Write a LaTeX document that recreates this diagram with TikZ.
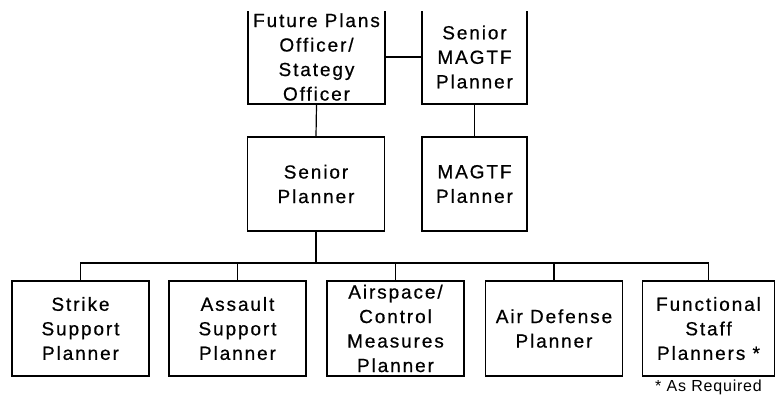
\documentclass[tikz,border=0pt]{standalone}
\usepackage{fontspec}
\setmainfont{Liberation Sans}[LetterSpace=10,FakeBold=0.6]
\newfontfamily\notefont{Liberation Sans}[LetterSpace=5]

\tikzset{
    planbox/.style={draw, line width=1.2pt, rectangle, align=center,
        minimum width=137pt, minimum height=94pt, inner sep=0pt,
        font=\fontsize{19}{24.5}\selectfont},
    link/.style={line width=1.2pt}
}

\begin{document}
\begin{tikzpicture}[x=1pt,y=-1pt]
        \useasboundingbox (0,0) rectangle (775,396);
        \clip (0,11.8) rectangle (775,396);
        % top row
        \node[planbox] (fpo) at (316.5,57) {Future Plans\\Officer/\\Stategy\\Officer};
        \node[planbox, minimum width=105pt] (smp) at (474.5,57) {Senior\\MAGTF\\Planner};
        % second row
        \node[planbox] (sp) at (316,184) {Senior\\Planner};
        \node[planbox, minimum width=105pt] (mp) at (474.5,184) {MAGTF\\Planner};
        \draw[link] (fpo.east) -- (smp.west);
        \draw[link] (fpo.south) -- (sp.north);
        \draw[link] (smp.south) -- (mp.north);
        % bottom row
        \coordinate (bus) at (316,263);
        \draw[link] (sp.south) -- (bus);
        \foreach \x/\n/\l in {80.5/strike/{Strike\\Support\\Planner},
                              237.5/assault/{Assault\\Support\\Planner},
                              395.5/airspace/{Airspace/\\Control\\Measures\\Planner},
                              554/airdef/{Air Defense\\Planner}} {
            \node[planbox, minimum height=95pt] (\n) at (\x,328.5) {\l};
        }
        \node[planbox, minimum height=95pt, minimum width=132pt] (staff) at (708.5,328.5)
            {Functional\\Staff\\Planners *};
        \draw[link] (strike.north) |- (bus) -| (staff.north);
        \foreach \n in {assault,airspace,airdef} {
            \draw[link] (\n.north) -- (\n.north |- bus);
        }
        \node[font=\notefont\fontsize{16}{18}\selectfont, anchor=north, inner sep=0pt]
            (note) at ([yshift=-3pt]staff.south) {* As Required};
\end{tikzpicture}
\end{document}
